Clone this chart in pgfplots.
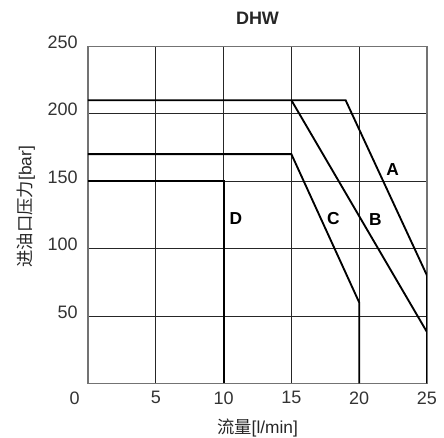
\documentclass[border=0pt]{standalone}
\usepackage{pgfplots}
\pgfplotsset{compat=1.18}
\usepackage{fontspec}
\setmainfont{Liberation Sans}
\newfontfamily\cjk{Noto Sans CJK SC}

\begin{document}
\begin{tikzpicture}
\useasboundingbox (0,0) rectangle (333pt,328.5pt);
\begin{axis}[
  at={(66pt,41pt)}, anchor=south west,
  scale only axis, width=254.25pt, height=252.75pt,
  xmin=0, xmax=25, ymin=0, ymax=250,
  xtick={5,10,15,20,25}, ytick={50,100,150,200,250},
  extra x ticks={0},
  extra x tick style={grid=none, xticklabel style={xshift=-10pt}},
  grid=major,
  major grid style={black!85, line width=0.6pt},
  axis line style={black!55, line width=0.8pt},
  tick style={draw=none},
  /pgf/number format/assume math mode=true,
  tick label style={font=\fontsize{13.5}{15}\selectfont, text=black!80},
  yticklabel style={anchor=east, inner sep=0pt, xshift=-7.5pt, yshift=3pt},
  xticklabel style={anchor=north, inner sep=0pt, yshift=-6pt},
  title={\bfseries DHW},
  title style={at={(axis description cs:0.5,1)}, anchor=center, yshift=15pt,
    font=\fontsize{13.5}{15}\selectfont, text=black!85},
  xlabel={{\cjk 流量}[l/min]},
  xlabel style={at={(axis description cs:0.5,0)}, anchor=center, yshift=-33.5pt,
    font=\fontsize{13}{15}\selectfont, text=black!85},
  ylabel={{\cjk 进油口压力}[bar]},
  ylabel style={at={(axis description cs:-0.183,0.524)}, anchor=center,
    font=\fontsize{13}{15}\selectfont, text=black!85},
]
\addplot[black, line width=1.4pt] coordinates {(0,210) (19,210) (25,80) (25,0)};
\addplot[black, line width=1.4pt] coordinates {(15,210) (25,38)};
\addplot[black, line width=1.4pt] coordinates {(0,170) (15,170) (20,60) (20,0)};
\addplot[black, line width=1.4pt] coordinates {(0,150) (10,150) (10,0)};
\node[font=\fontsize{13}{15}\selectfont\bfseries] at (axis cs:22.47,158.8) {A};
\node[font=\fontsize{13}{15}\selectfont\bfseries] at (axis cs:21.2,121.7) {B};
\node[font=\fontsize{13}{15}\selectfont\bfseries] at (axis cs:18.1,122.5) {C};
\node[font=\fontsize{13}{15}\selectfont\bfseries] at (axis cs:10.9,122.5) {D};
\end{axis}
\end{tikzpicture}
\end{document}
